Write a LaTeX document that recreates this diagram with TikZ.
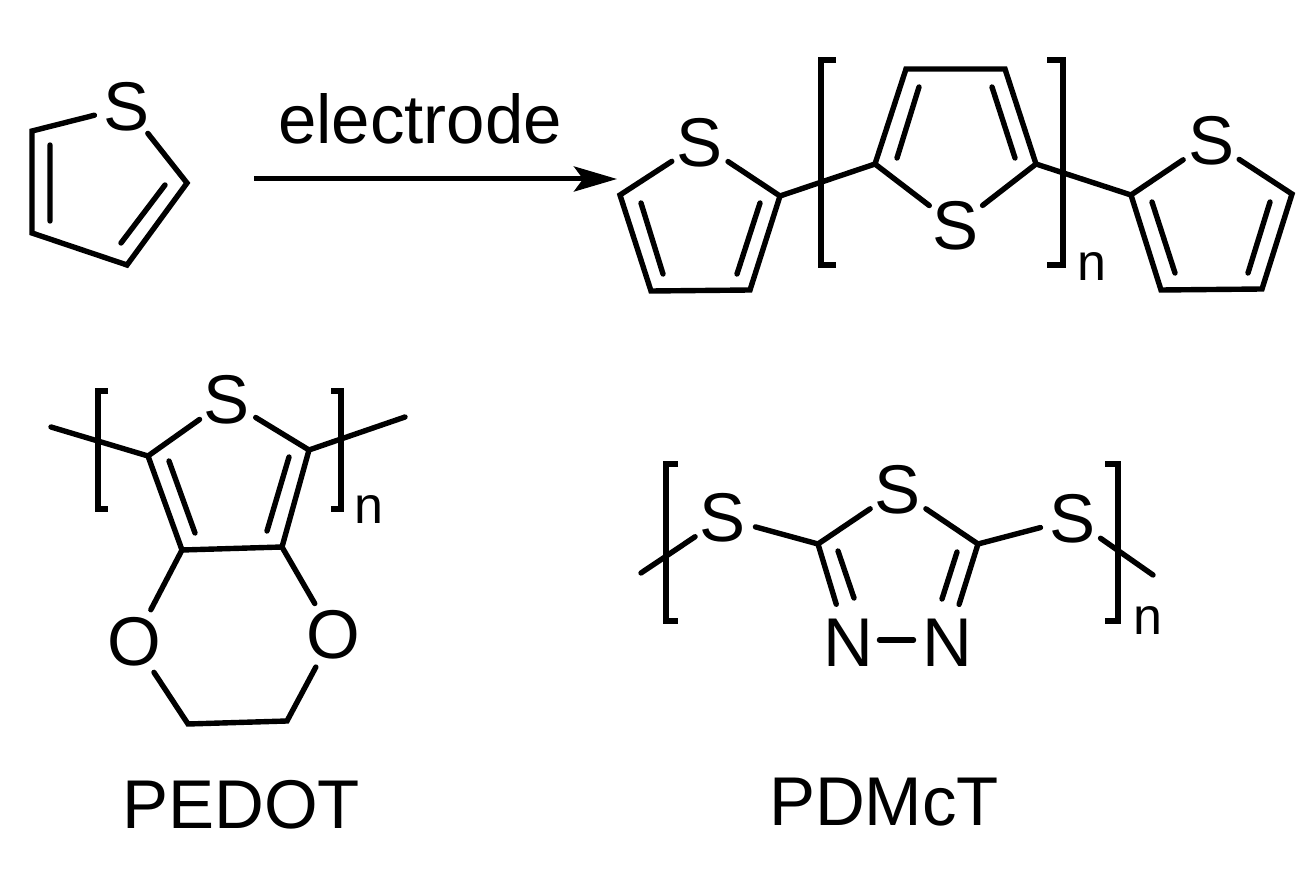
\documentclass[tikz,border=0pt]{standalone}
\usepackage{fontspec}
\setmainfont{Liberation Sans}
\usetikzlibrary{arrows.meta}
\tikzset{
  bond/.style={line width=5.4pt,line cap=round,line join=miter,black},
  brack/.style={line width=5.4pt,line cap=butt,line join=miter,black},
  atom/.style={circle,inner sep=0pt,minimum size=66pt,font=\fontsize{69}{69}\selectfont},
  vtx/.style={coordinate},
  lab/.style={inner sep=0pt,font=\fontsize{69}{69}\selectfont},
  subn/.style={inner sep=0pt,font=\fontsize{52}{52}\selectfont},
  rxn/.style={line width=5pt,black,-{Stealth[length=43pt,width=25pt,inset=9pt]}}
}
\begin{document}
\begin{tikzpicture}[x=1pt,y=-1pt]
\useasboundingbox (0,0) rectangle (1310,885);
\fill[white] (0,0) rectangle (1310,885);

% thiophene
\node[atom] (s1) at (127,107) {S};
\node[vtx] (a1) at (32,131) {};
\node[vtx] (a2) at (32,233) {};
\node[vtx] (a3) at (127,265) {};
\node[vtx] (a4) at (187,183) {};
\node[vtx] (a5) at (50,145) {};
\node[vtx] (a6) at (50,221) {};
\node[vtx] (a7) at (121,243) {};
\node[vtx] (a8) at (165,185) {};
\draw[bond] (s1) -- (a1) -- (a2) -- (a3) -- (a4) -- (s1);
\draw[bond] (a5) -- (a6) (a7) -- (a8);

% arrow
\node[lab] (el) at (420,119) {electrode};
\node[vtx] (r1) at (254,179) {};
\node[vtx] (r2) at (617,179) {};
\draw[rxn] (r1) -- (r2);

% polymer, left ring
\node[atom] (s2) at (700,143) {S};
\node[vtx] (b1) at (620,195) {};
\node[vtx] (b2) at (651,291) {};
\node[vtx] (b3) at (750,290) {};
\node[vtx] (b4) at (780,196) {};
\node[vtx] (b5) at (641,203) {};
\node[vtx] (b6) at (663,274) {};
\node[vtx] (b7) at (737,274) {};
\node[vtx] (b8) at (760,203) {};
\draw[bond] (s2) -- (b1) -- (b2) -- (b3) -- (b4) -- (s2);
\draw[bond] (b5) -- (b6) (b7) -- (b8);

% polymer, middle ring
\node[atom] (s3) at (956,226) {S};
\node[vtx] (c1) at (875,164) {};
\node[vtx] (c2) at (906,69) {};
\node[vtx] (c3) at (1005,69) {};
\node[vtx] (c4) at (1036,164) {};
\node[vtx] (c5) at (897,158) {};
\node[vtx] (c6) at (919,87) {};
\node[vtx] (c7) at (992,87) {};
\node[vtx] (c8) at (1015,158) {};
\draw[bond] (s3) -- (c1) -- (c2) -- (c3) -- (c4) -- (s3);
\draw[bond] (c5) -- (c6) (c7) -- (c8);
\draw[bond] (b4) -- (c1);

% polymer, right ring
\node[atom] (s4) at (1211,141) {S};
\node[vtx] (d1) at (1131,195) {};
\node[vtx] (d2) at (1161,290) {};
\node[vtx] (d3) at (1262,289) {};
\node[vtx] (d4) at (1292,194) {};
\node[vtx] (d5) at (1152,202) {};
\node[vtx] (d6) at (1175,273) {};
\node[vtx] (d7) at (1248,273) {};
\node[vtx] (d8) at (1270,202) {};
\draw[bond] (s4) -- (d1) -- (d2) -- (d3) -- (d4) -- (s4);
\draw[bond] (d5) -- (d6) (d7) -- (d8);
\draw[bond] (c4) -- (d1);

\draw[brack] (836,60) -- (821,60) -- (821,265) -- (836,265);
\draw[brack] (1047,60) -- (1063,60) -- (1063,265) -- (1047,265);
\node[subn] (n1) at (1092,267) {n};

% PEDOT
\node[atom] (s5) at (227,400) {S};
\node[atom] (o1) at (134,642) {O};
\node[atom] (o2) at (333,635) {O};
\node[vtx] (e1) at (148,456) {};
\node[vtx] (e2) at (309,450) {};
\node[vtx] (e3) at (182,550) {};
\node[vtx] (e4) at (282,547) {};
\node[vtx] (e5) at (188,724) {};
\node[vtx] (e6) at (287,721) {};
\node[vtx] (e7) at (51,427) {};
\node[vtx] (e8) at (405,417) {};
\node[vtx] (e9) at (169,461) {};
\node[vtx] (e10) at (195,533) {};
\node[vtx] (e11) at (289,457) {};
\node[vtx] (e12) at (267,531) {};
\draw[bond] (s5) -- (e1) -- (e3) -- (e4) -- (e2) -- (s5);
\draw[bond] (e9) -- (e10) (e11) -- (e12);
\draw[bond] (e7) -- (e1) (e2) -- (e8);
\draw[bond] (e3) -- (o1) -- (e5) -- (e6) -- (o2) -- (e4);
\draw[brack] (108,391) -- (98,391) -- (98,509) -- (108,509);
\draw[brack] (331,391) -- (341,391) -- (341,509) -- (331,509);
\node[subn] (n2) at (369,510) {n};
\node[lab] (pedot) at (241,805) {PEDOT};

% PDMcT
\node[atom] (s6) at (898,490) {S};
\node[atom] (s7) at (723,518) {S};
\node[atom] (s8) at (1073,519) {S};
\node[atom] (n3) at (848,643) {N};
\node[atom] (n4) at (947,643) {N};
\node[vtx] (f1) at (818,544) {};
\node[vtx] (f2) at (978,544) {};
\node[vtx] (f3) at (641,573) {};
\node[vtx] (f4) at (1153,575) {};
\node[vtx] (f5) at (838,551) {};
\node[vtx] (f6) at (854,598) {};
\node[vtx] (f7) at (957,552) {};
\node[vtx] (f8) at (942,599) {};
\draw[bond] (s6) -- (f1);
\draw[bond,shorten >=6pt] (f1) -- (n3);
\draw[bond,shorten <=-3pt,shorten >=-1pt] ([yshift=3pt]n3.east) -- ([yshift=3pt]n4.west);
\draw[bond,shorten >=6pt] (f2) -- (n4);
\draw[bond] (f2) -- (s6);
\draw[bond] (f5) -- (f6) (f7) -- (f8);
\draw[bond] (s7) -- (f1) (f2) -- (s8);
\draw[bond] (f3) -- (s7) (s8) -- (f4);
\draw[brack] (678,464) -- (666,464) -- (666,621) -- (678,621);
\draw[brack] (1105,464) -- (1118,464) -- (1118,621) -- (1105,621);
\node[subn] (n5) at (1148,621) {n};
\node[lab] (pdmct) at (884,802) {PDMcT};
\end{tikzpicture}
\end{document}
